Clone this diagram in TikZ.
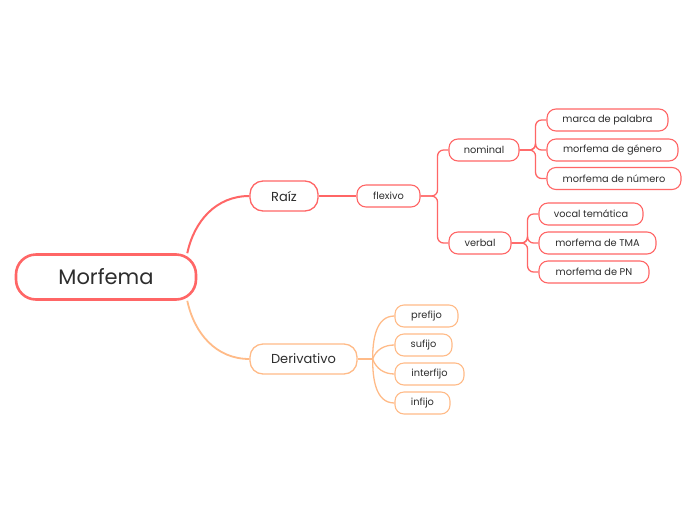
\documentclass[tikz,border=0pt]{standalone}
\usepackage{fontspec}
\setmainfont{Poppins}
\usetikzlibrary{positioning}
\definecolor{rootred}{RGB}{255,102,102}
\definecolor{derivorange}{RGB}{255,187,136}
\definecolor{txtgray}{RGB}{45,45,45}
\tikzset{
  central/.style={draw=rootred, line width=2.6pt, rounded corners=20pt, fill=white,
    minimum width=180pt, minimum height=45pt, text=txtgray, font=\fontsize{21}{24}\selectfont},
  mainbox/.style={draw=#1, line width=1.3pt, rounded corners=13pt, fill=white,
    minimum height=30pt, text=txtgray, font=\fontsize{13}{15}\selectfont},
  leafbox/.style={draw=#1, line width=1.1pt, rounded corners=9pt, fill=white,
    minimum height=22pt, text=txtgray, font=\fontsize{9.8}{11}\selectfont},
  redline/.style={draw=rootred, line width=1.3pt},
  orangeline/.style={draw=derivorange, line width=1.3pt}
}
\begin{document}
\begin{tikzpicture}[x=1pt, y=-1pt]
  \useasboundingbox[fill=white] (0,0) rectangle (696,520);

  %Morfema
  \node[central] (morfema) at (106,277) {Morfema};

  %Raiz branch
  \node[mainbox=rootred, minimum width=68pt] (raiz) at (284,196) {Raíz};
  \node[leafbox=rootred, minimum width=63pt] (flexivo) at (388.5,196) {flexivo};
  \node[leafbox=rootred, minimum width=70pt] (nominal) at (484,150) {nominal};
  \node[leafbox=rootred, minimum width=62pt] (verbal) at (480,243) {verbal};

  \node[leafbox=rootred, minimum width=121pt] (palabra) at (607.5,120) {marca de palabra};
  \node[leafbox=rootred, minimum width=131pt] (genero) at (612.5,150) {morfema de género};
  \node[leafbox=rootred, minimum width=134pt] (numero) at (614,178.5) {morfema de número};

  \node[leafbox=rootred, minimum width=104pt] (vocal) at (591,214) {vocal temática};
  \node[leafbox=rootred, minimum width=117pt] (tma) at (597.5,243) {morfema de TMA};
  \node[leafbox=rootred, minimum width=110pt] (pn) at (594,272) {morfema de PN};

  %Derivativo branch
  \node[mainbox=derivorange, minimum width=107pt] (derivativo) at (303.5,359) {Derivativo};
  \node[leafbox=derivorange, minimum width=63pt] (prefijo) at (426.5,316) {prefijo};
  \node[leafbox=derivorange, minimum width=57pt] (sufijo) at (423.5,345) {sufijo};
  \node[leafbox=derivorange, minimum width=69pt] (interfijo) at (429.5,374) {interfijo};
  \node[leafbox=derivorange, minimum width=55pt] (infijo) at (422.5,403) {infijo};

  % main curves
  \draw[redline, line width=2pt] ([xshift=-10pt]morfema.north east) to[out=78,in=180] (raiz.west);
  \draw[orangeline, line width=1.8pt] ([xshift=-10pt]morfema.south east) to[out=-78,in=180] (derivativo.west);

  % flexivo
  \draw[redline] (raiz.east) -- (flexivo.west);
  \draw[redline, rounded corners=6pt] (flexivo.east) -- ++(17,0) |- (nominal.west);
  \draw[redline, rounded corners=6pt] (flexivo.east) -- ++(17,0) |- (verbal.west);

  \foreach \leaf in {palabra,genero,numero}
    \draw[redline, rounded corners=6pt] (nominal.east) -- ++(16,0) |- (\leaf.west);
  \foreach \leaf in {vocal,tma,pn}
    \draw[redline, rounded corners=6pt] (verbal.east) -- ++(16,0) |- (\leaf.west);

  % derivativo
  \draw[orangeline] (derivativo.east) -- ++(15,0) coordinate (dfork);
  \foreach \leaf/\ang in {prefijo/90,sufijo/70,interfijo/-70,infijo/-90}
    \draw[orangeline] (dfork) to[out=\ang,in=180] (\leaf.west);
\end{tikzpicture}
\end{document}
